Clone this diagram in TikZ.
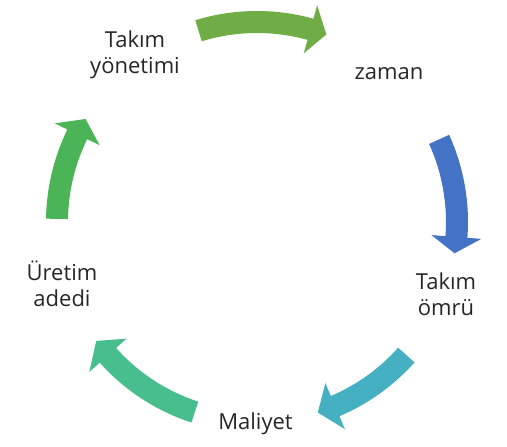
\documentclass[tikz,border=0pt]{standalone}
\usepackage{fontspec}
\setmainfont{Open Sans}
\usepackage{tikz}
\definecolor{arrgreen}{HTML}{70AD47}
\definecolor{arrblue}{HTML}{4472C4}
\definecolor{arrteal}{HTML}{45B0C1}
\definecolor{arrmint}{HTML}{48BE8E}
\definecolor{arrleaf}{HTML}{4BB457}
% tail angle : tip angle : head base angle
\def\cyclearrow[#1](#2:#3:#4){\fill[#1] (#2:189pt) arc (#2:#4:189pt) -- (#4:175pt) -- (#3:200pt) -- (#4:225pt) -- (#4:211pt) arc (#4:#2:211pt) -- cycle;}

\begin{document}
\begin{tikzpicture}[x=1pt, y=1pt, lbl/.style={font=\fontsize{22}{26}\selectfont, text=black!85, align=center, inner sep=0pt}]
			%%%%% START %%%%%
			\useasboundingbox (-257, -225) rectangle (250, 222);
			
			\cyclearrow[arrgreen](107:69.7:74.5)
			\cyclearrow[arrblue](24.4:-9:-4.3)
			\cyclearrow[arrteal](-41.7:-72.3:-67)
			\cyclearrow[arrmint](-108.1:-143.5:-138.2)
			\cyclearrow[arrleaf](179.1:149:154)
			
			\node[lbl] (yonetim) at (-122, 167) {Takım\\yönetimi};
			\node[lbl, anchor=base] (zaman) at (132, 142) {zaman};
			\node[lbl] (omur) at (189, -72) {Takım\\ömrü};
			\node[lbl, anchor=base] (maliyet) at (-1.5, -208) {Maliyet};
			\node[lbl] (adet) at (-195, -62) {Üretim\\adedi};
			
			%%%%% END %%%%%
		\end{tikzpicture}
\end{document}
